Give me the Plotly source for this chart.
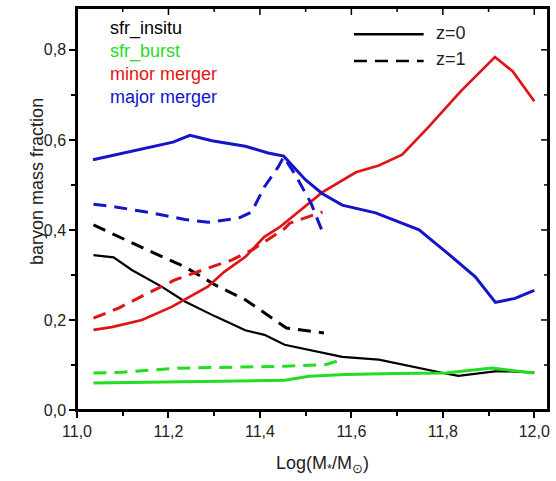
import plotly.graph_objects as go

# ---- data ----
insitu_z0_x = [11.036, 11.08, 11.12, 11.185, 11.236, 11.302, 11.368, 11.41, 11.454, 11.487, 11.58, 11.66, 11.711, 11.754, 11.806, 11.834, 11.877, 11.914, 11.95, 12.0]
insitu_z0_y = [0.344, 0.339, 0.311, 0.274, 0.241, 0.208, 0.177, 0.167, 0.145, 0.138, 0.118, 0.112, 0.101, 0.091, 0.081, 0.076, 0.082, 0.086, 0.086, 0.083]

insitu_z1_x = [11.036, 11.105, 11.17, 11.236, 11.302, 11.368, 11.432, 11.458, 11.54]
insitu_z1_y = [0.411, 0.378, 0.348, 0.318, 0.278, 0.245, 0.200, 0.182, 0.171]

burst_z0_x = [11.036, 11.2, 11.3, 11.454, 11.508, 11.587, 11.696, 11.806, 11.907, 11.964, 12.0]
burst_z0_y = [0.060, 0.062, 0.064, 0.066, 0.075, 0.079, 0.081, 0.082, 0.093, 0.086, 0.082]

burst_z1_x = [11.036, 11.1, 11.22, 11.454, 11.545, 11.58]
burst_z1_y = [0.082, 0.084, 0.093, 0.097, 0.101, 0.112]

minor_z0_x = [11.036, 11.076, 11.142, 11.207, 11.286, 11.322, 11.369, 11.409, 11.443, 11.537, 11.61, 11.66, 11.711, 11.769, 11.841, 11.914, 11.953, 12.0]
minor_z0_y = [0.178, 0.184, 0.200, 0.229, 0.274, 0.307, 0.341, 0.384, 0.406, 0.484, 0.528, 0.543, 0.567, 0.629, 0.710, 0.784, 0.752, 0.686]

minor_z1_x = [11.036, 11.09, 11.156, 11.214, 11.28, 11.338, 11.382, 11.426, 11.454, 11.465, 11.537]
minor_z1_y = [0.204, 0.226, 0.260, 0.289, 0.313, 0.333, 0.355, 0.385, 0.403, 0.415, 0.440]

major_z0_x = [11.035, 11.07, 11.21, 11.247, 11.295, 11.368, 11.418, 11.452, 11.50, 11.536, 11.58, 11.653, 11.748, 11.806, 11.871, 11.915, 11.958, 12.0]
major_z0_y = [0.556, 0.564, 0.595, 0.610, 0.598, 0.586, 0.571, 0.564, 0.511, 0.481, 0.455, 0.438, 0.400, 0.352, 0.296, 0.239, 0.248, 0.266]

major_z1_x = [11.036, 11.084, 11.163, 11.236, 11.287, 11.353, 11.382, 11.41, 11.44, 11.452, 11.476, 11.512, 11.537]
major_z1_y = [0.457, 0.451, 0.438, 0.423, 0.417, 0.426, 0.440, 0.496, 0.540, 0.562, 0.525, 0.459, 0.395]

series_names = ["sfr_insitu", "sfr_burst", "minor merger", "major merger"]
series_colors = ["#000000", "#22dd22", "#e01414", "#1414c8"]
z_labels = ["z=0", "z=1"]

# tick positions (major / minor) used for the inside ticks of the top and right frame
x_major_ticks = [11.0, 11.2, 11.4, 11.6, 11.8, 12.0]
x_minor_ticks = [11.1, 11.3, 11.5, 11.7, 11.9]
y_major_ticks = [0.0, 0.2, 0.4, 0.6, 0.8]
y_minor_ticks = [0.1, 0.3, 0.5, 0.7]

FONT = "Liberation Sans, Arial, sans-serif"
DASH = "13px,8px"

W, H = 556, 481
ML, MR, MT, MB = 77, 6, 7, 71
PW, PH = W - ML - MR, H - MT - MB

fig = go.Figure()
series = [
    (insitu_z0_x, insitu_z0_y, insitu_z1_x, insitu_z1_y, 2.2),
    (burst_z0_x, burst_z0_y, burst_z1_x, burst_z1_y, 3),
    (minor_z0_x, minor_z0_y, minor_z1_x, minor_z1_y, 2.7),
    (major_z0_x, major_z0_y, major_z1_x, major_z1_y, 3),
]
for (x0, y0, x1, y1, w), name, col in zip(series, series_names, series_colors):
    fig.add_trace(go.Scatter(x=x0, y=y0, mode="lines", name=name + " z=0",
                             line=dict(color=col, width=w), showlegend=False))
    fig.add_trace(go.Scatter(x=x1, y=y1, mode="lines", name=name + " z=1",
                             line=dict(color=col, width=3, dash=DASH), showlegend=False))

XR = [11.0, 12.03]
YR = [0.0, 0.893]

common = dict(linecolor="black", linewidth=1.5, showgrid=False, zeroline=False,
              tickcolor="black", tickwidth=1.5, showline=True, mirror=True,
              ticks="outside", ticklen=6, tickformat=".1f",
              tickfont=dict(size=16, family=FONT, color="#222222"))

fig.update_layout(
    width=W, height=H,
    margin=dict(l=ML, r=MR, t=MT, b=MB),
    paper_bgcolor="white", plot_bgcolor="white",
    separators=", ",
    font=dict(family=FONT, color="#222222", size=16),
    xaxis=dict(range=XR, dtick=0.2, tick0=11.0,
               minor=dict(ticks="outside", ticklen=4, dtick=0.1, tickcolor="black", tickwidth=1.5),
               **common),
    yaxis=dict(range=YR, dtick=0.2, tick0=0.0,
               minor=dict(ticks="outside", ticklen=4, dtick=0.1, tickcolor="black", tickwidth=1.5),
               **common),
)

# frame drawn explicitly as well
fig.add_shape(type="rect", xref="paper", yref="paper", x0=0, x1=1, y0=0, y1=1,
              line=dict(color="black", width=2), fillcolor="rgba(0,0,0,0)", layer="above")

# inside ticks on the top and right frame edges
tick_line = dict(color="black", width=1.5)
for vals, ln in ((x_major_ticks, 7), (x_minor_ticks, 4)):
    for v in vals:
        fig.add_shape(type="line", xref="x", yref="paper", x0=v, x1=v, y0=1, y1=1 - ln / PH,
                      line=tick_line, layer="above")
for vals, ln in ((y_major_ticks, 7), (y_minor_ticks, 4)):
    for v in vals:
        fig.add_shape(type="line", xref="paper", yref="y", x0=1, x1=1 - ln / PW, y0=v, y1=v,
                      line=tick_line, layer="above")

# colored text legend
legend_y = [0.949, 0.893, 0.836, 0.778]
for name, col, yy in zip(series_names, series_colors, legend_y):
    fig.add_annotation(x=0.0655, y=yy, xref="paper", yref="paper", text=name,
                       showarrow=False, xanchor="left", yanchor="middle",
                       font=dict(size=18, color=col, family=FONT))

# line style legend
for lab, yy, dash in zip(z_labels, [0.935, 0.868], ["solid", DASH]):
    fig.add_shape(type="line", xref="paper", yref="paper", x0=0.588, x1=0.736, y0=yy, y1=yy,
                  line=dict(color="black", width=2.5, dash=dash))
    fig.add_annotation(x=0.757, y=yy + 0.004, xref="paper", yref="paper", text=lab,
                       showarrow=False, xanchor="left", yanchor="middle",
                       font=dict(size=18, color="#222222", family=FONT))

# axis titles
fig.add_annotation(x=-0.0852, y=0.5695, xref="paper", yref="paper", text="baryon mass fraction",
                   textangle=-90, showarrow=False, xanchor="center", yanchor="middle",
                   font=dict(size=18, color="#222222", family=FONT))
fig.add_annotation(x=0.5207, y=-0.1365, xref="paper", yref="paper",
                   text="Log(M<sub>*</sub>/M<sub>⊙</sub>)",
                   showarrow=False, xanchor="center", yanchor="middle",
                   font=dict(size=18, color="#222222", family=FONT))

fig.write_html("out.html", config={"displayModeBar": False},
               post_script="document.body.style.margin='0';document.body.style.overflow='hidden';")
